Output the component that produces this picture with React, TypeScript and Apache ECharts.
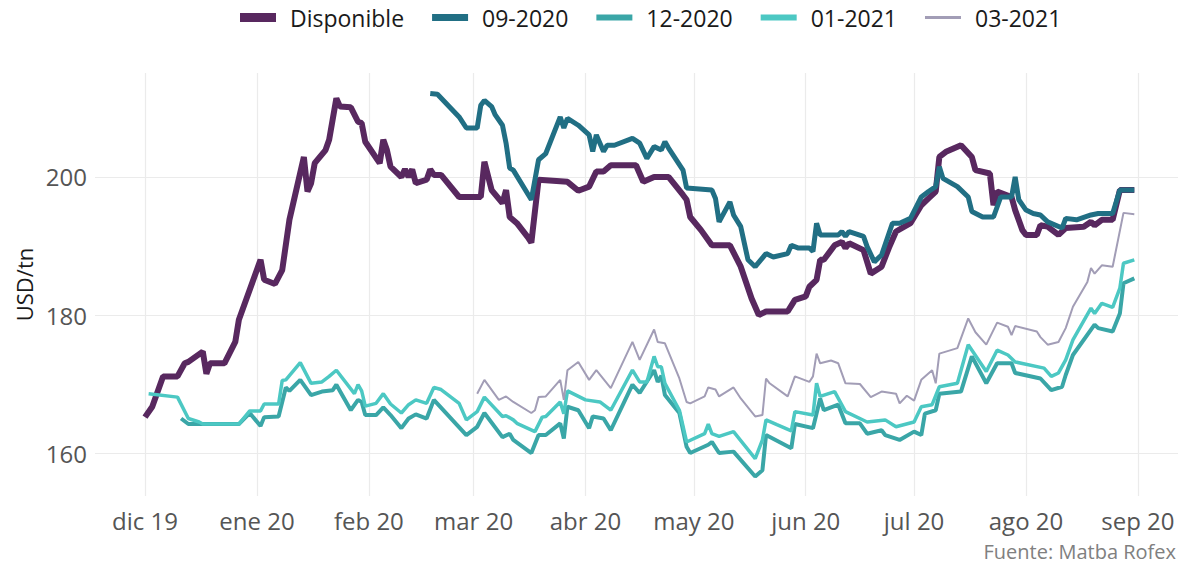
import React, { useEffect, useRef } from "react";
import * as echarts from "echarts";

const monthLabels = ["ene", "feb", "mar", "abr", "may", "jun", "jul", "ago", "sep", "oct", "nov", "dic"];
const seriesNames = ["Disponible", "09-2020", "12-2020", "01-2021", "03-2021"];
const seriesColors = ["#58285f", "#216f84", "#3aa6a7", "#4cc8c3", "#a29db6"];
const lineWidths = [6, 5, 4, 3.5, 2];
const legendIconHeights = [9, 7, 6, 6, 3];

// [days since 2019-12-01, USD/tn]
const disponible = [
  [0, 165.2], [2, 166.7], [5, 171.1], [9, 171.1], [11, 173], [12, 173.2], [16, 174.7], [17, 171.5], [18, 173], [22, 173],
  [25, 176.1], [26, 179.3], [28, 182.2], [32, 188], [33, 185.1], [36, 184.5], [38, 186.5], [40, 193.8], [44, 202.9], [45, 197.9],
  [46, 199.1], [47, 202], [50, 203.9], [51, 205.4], [53, 211.4], [54, 210.2], [57, 210.1], [59, 208], [60, 207.8], [61, 205.1],
  [65, 202], [66, 205.4], [67, 203.9], [68, 201.5], [71, 200], [72, 201.1], [73, 200], [74, 201.1], [75, 199.1], [78, 199.6],
  [79, 201.1], [80, 200.3], [82, 200.3], [87, 197.1], [93, 197.1], [94, 202.2], [96, 198.1], [99, 196.2], [100, 198.1], [101, 194.2],
  [103, 193.3], [106, 191.3], [107, 190.5], [109, 199.6], [117, 199.3], [120, 198], [123, 198.6], [125, 200.8], [127, 200.8], [129, 201.7],
  [136, 201.7], [138, 199.3], [141, 200], [145, 200], [149, 197.4], [150, 196.7], [151, 194.2], [154, 192.3], [157, 190.1], [162, 190.1],
  [165, 187], [168, 182.4], [170, 180], [172, 180.5], [178, 180.5], [180, 182.2], [183, 182.7], [184, 184.1], [186, 185.1], [187, 188],
  [188, 188], [191, 190.1], [193, 190.6], [194, 189.7], [195, 190.4], [199, 189.4], [201, 186], [204, 187], [206, 189.7], [208, 192.1],
  [212, 193.3], [215, 195.9], [217, 196.9], [219, 197.9], [220, 202.9], [222, 203.7], [226, 204.6], [229, 202.9], [230, 201], [234, 200.5],
  [235, 195.9], [236, 197.9], [240, 197.1], [241, 195.2], [243, 192.3], [244, 191.6], [247, 191.6], [248, 193], [250, 192.8], [253, 191.6],
  [255, 192.6], [260, 192.8], [262, 193.5], [263, 193], [265, 193.8], [268, 193.8], [270, 198.1], [274, 198.1],
];

const sep2020 = [
  [79, 212.1], [81, 212], [87, 208.7], [89, 207.1], [92, 207.1], [93, 210.4], [94, 211.1], [96, 210.2], [97, 209], [99, 207.5],
  [100, 204.9], [101, 201.3], [102, 201], [107, 196.7], [109, 202.5], [111, 203.4], [115, 208.7], [116, 207.1], [117, 208.5], [120, 207.5],
  [123, 206.1], [124, 203.7], [125, 206.1], [127, 203.7], [128, 204.6], [130, 204.6], [135, 205.6], [137, 204.9], [139, 202.7], [141, 204.4],
  [143, 203.9], [144, 205.1], [145, 204.2], [149, 201], [150, 198.4], [157, 198.1], [158, 196.9], [159, 193.5], [162, 196.4], [163, 194.5],
  [165, 192.8], [167, 188], [169, 187], [172, 188.9], [174, 188.4], [178, 188.9], [179, 190.1], [181, 189.7], [184, 189.7], [185, 189.2],
  [186, 193.3], [187, 191.6], [192, 191.6], [193, 192.1], [194, 191.4], [195, 192.1], [199, 191.4], [200, 189.9], [202, 187.7], [204, 188.7],
  [207, 193.3], [209, 193.3], [212, 194], [215, 197.1], [217, 197.9], [219, 198.6], [220, 201.5], [221, 199.8], [225, 198.6], [228, 197.1],
  [229, 195], [232, 194.2], [235, 194.2], [237, 197.1], [240, 197.1], [241, 200], [242, 196.7], [244, 195.2], [246, 194.7], [248, 194.5],
  [250, 193.5], [254, 192.6], [255, 194], [258, 193.8], [262, 194.5], [264, 194.7], [268, 194.7], [270, 198.1], [274, 198.1],
];

const dec2020 = [
  [10, 165], [12, 164.2], [26, 164.2], [29, 165.8], [32, 163.9], [33, 165.2], [37, 165.3], [39, 169.5], [40, 169], [43, 170.6],
  [46, 168.4], [49, 168.9], [52, 169.1], [53, 169.9], [57, 166.2], [59, 167.7], [60, 167.4], [61, 165.5], [64, 165.5], [66, 166.6],
  [68, 165.5], [71, 163.6], [73, 165], [75, 165.6], [78, 165], [80, 167.7], [89, 162.6], [92, 163.8], [94, 165.8], [99, 162.3],
  [101, 162.8], [102, 161.9], [107, 160], [109, 162.6], [111, 162.6], [115, 164.3], [116, 162.1], [117, 166.7], [120, 166.2], [123, 163.6],
  [124, 165.3], [127, 165], [129, 163.3], [135, 169.9], [137, 168.7], [141, 172], [142, 170.3], [143, 171.2], [144, 168.4], [148, 165.8],
  [150, 160.9], [151, 160], [156, 161.2], [157, 161.6], [159, 160], [163, 160.2], [169, 156.6], [171, 157.5], [172, 162.6], [179, 160.7],
  [180, 164.2], [185, 163.6], [187, 167.9], [188, 166.2], [192, 167], [194, 164.3], [198, 164.3], [200, 162.8], [204, 163.3], [205, 162.6],
  [209, 161.9], [213, 163.1], [215, 162.6], [216, 165.7], [219, 166.2], [220, 168.6], [226, 168.9], [229, 174], [233, 170.1], [236, 173],
  [240, 173], [241, 171.6], [248, 170.8], [251, 169.1], [254, 169.6], [255, 171.3], [257, 174.2], [263, 178.6], [264, 178.1], [268, 177.6],
  [270, 180.2], [271, 184.6], [274, 185.3],
];

const jan2021 = [
  [1, 168.6], [9, 168.1], [12, 165], [15, 164.5], [16, 164.2], [26, 164.2], [29, 166.1], [32, 166.1], [33, 167.1], [37, 167.1],
  [38, 170.5], [39, 170.6], [43, 173.1], [46, 170.1], [49, 170.3], [51, 171.1], [53, 172], [58, 168.6], [59, 169.9], [60, 169],
  [61, 166.8], [64, 167.2], [66, 168.6], [68, 167.1], [71, 165.8], [73, 167], [75, 167.7], [78, 167.2], [80, 169.5], [82, 169.2],
  [87, 167.2], [89, 164.8], [92, 166], [94, 168.1], [99, 165.3], [100, 165.4], [102, 164.8], [103, 164.3], [108, 163.1], [110, 165.2],
  [111, 165.3], [115, 167.4], [116, 165.7], [117, 169], [122, 167.7], [126, 167.4], [129, 166.2], [135, 172], [137, 170.3], [139, 170.3],
  [141, 174], [142, 172.5], [143, 172.5], [144, 170.1], [148, 166.2], [150, 161.6], [155, 162.8], [156, 164.2], [157, 162.8], [159, 162.4],
  [163, 163.1], [169, 159.2], [171, 161.9], [172, 164.8], [175, 164.1], [179, 163.2], [180, 166], [185, 165.5], [186, 170.1], [187, 168.2],
  [191, 168.9], [194, 166], [200, 164.5], [205, 164.8], [208, 163.8], [213, 164.5], [215, 166.7], [218, 167], [220, 169.6], [225, 170.1],
  [228, 175.7], [233, 171.8], [236, 174.9], [239, 174.2], [241, 173.2], [249, 172.3], [251, 171.1], [253, 171.6], [255, 173.5], [257, 176.4],
  [262, 181], [263, 180.2], [265, 181.7], [268, 181.1], [270, 183.9], [271, 187.5], [274, 188],
];

const mar2021 = [
  [92, 168.6], [94, 170.6], [98, 167.7], [100, 168.2], [102, 167.4], [107, 165.8], [108, 166.2], [109, 168.1], [111, 168.2], [115, 170.6],
  [116, 167.7], [117, 172], [120, 173.2], [123, 170.6], [125, 172], [129, 169.4], [135, 176.1], [137, 173.5], [141, 177.9], [142, 176.1],
  [144, 175.9], [148, 170.8], [150, 167.4], [151, 167.2], [155, 168.2], [156, 169.5], [158, 169.2], [159, 168.2], [163, 169.5], [165, 167.9],
  [169, 165.3], [171, 165.5], [172, 170.8], [173, 170.1], [178, 168.2], [180, 171.1], [184, 170.3], [185, 171.1], [186, 174.4], [187, 173],
  [190, 173.4], [192, 173], [194, 170.1], [198, 170], [201, 168.1], [204, 168.9], [208, 168.6], [209, 167.2], [211, 168.3], [213, 167.6],
  [215, 170.6], [218, 172], [219, 170.1], [220, 174.4], [225, 175.2], [228, 179.5], [230, 177.5], [233, 175.7], [236, 178.9], [239, 178.3],
  [240, 177.1], [241, 178.4], [247, 177.6], [248, 176.8], [250, 175.7], [253, 176.1], [255, 178.1], [257, 181.2], [261, 184.8], [262, 186.8],
  [263, 186], [265, 187.2], [268, 187], [271, 194.8], [274, 194.6],
];

const allSeries = [disponible, sep2020, dec2020, jan2021, mar2021];

const DAY = 86400000;
const BASE = Date.UTC(2019, 11, 1);
const FONT = "'Open Sans', sans-serif";

export default function App() {
  const ref = useRef<HTMLDivElement>(null);

  useEffect(() => {
    if (!ref.current) return;
    const chart = echarts.init(ref.current, null, { renderer: "svg" });
    const toData = (arr: number[][]) => arr.map(([d, v]) => [BASE + d * DAY, v]);

    chart.setOption({
      animation: false,
      useUTC: true,
      backgroundColor: "#ffffff",
      textStyle: { fontFamily: FONT },
      grid: { left: 95, right: 0, top: 73, bottom: 68, containLabel: false },
      legend: {
        left: 235,
        top: 1,
        itemWidth: 36,
        itemHeight: 10,
        itemGap: 28,
        textStyle: { fontSize: 23, color: "#1a1a1a", fontFamily: FONT, padding: [0, 0, 0, 9] },
        data: seriesNames.map((n, i) => ({
          name: n,
          icon: `path://M0,0H36V${legendIconHeights[i]}H0Z`,
        })),
      },
      xAxis: {
        type: "time",
        min: BASE - 13.85 * DAY,
        max: BASE + 286.1 * DAY,
        splitNumber: 10,
        minInterval: 27 * DAY,
        axisLine: { show: false },
        axisTick: { show: false },
        axisLabel: {
          fontSize: 24,
          color: "#555555",
          fontFamily: FONT,
          margin: 12,
          showMinLabel: false,
          showMaxLabel: false,
          formatter: (val: number) => {
            const d = new Date(val);
            return `${monthLabels[d.getUTCMonth()]} ${String(d.getUTCFullYear()).slice(2)}`;
          },
        },
        splitLine: { show: true, showMinLine: false, showMaxLine: false, lineStyle: { color: "#ebebeb", width: 1.2 } },
      },
      yAxis: {
        type: "value",
        min: 153.77,
        max: 215.07,
        minInterval: 20,
        maxInterval: 20,
        name: "USD/tn",
        nameLocation: "middle",
        nameGap: 60,
        nameTextStyle: { fontSize: 22, color: "#1a1a1a", fontFamily: FONT },
        axisLine: { show: false },
        axisTick: { show: false },
        axisLabel: {
          fontSize: 24,
          color: "#555555",
          fontFamily: FONT,
          margin: 8,
          showMinLabel: false,
          showMaxLabel: false,
        },
        splitLine: { show: true, showMinLine: false, showMaxLine: false, lineStyle: { color: "#ebebeb", width: 1.2 } },
      },
      series: allSeries.map((arr, i) => ({
        name: seriesNames[i],
        type: "line",
        symbol: "none",
        data: toData(arr),
        color: seriesColors[i],
        lineStyle: { width: lineWidths[i], color: seriesColors[i] },
        itemStyle: { color: seriesColors[i] },
        z: 2 + i,
      })),
      graphic: [
        {
          type: "text",
          right: 2,
          top: 541,
          style: { text: "Fuente: Matba Rofex", fontSize: 20, fill: "#808080", fontFamily: FONT },
        },
      ],
    });

    return () => chart.dispose();
  }, []);

  return (
    <div
      ref={ref}
      style={{ position: "absolute", left: 0, top: 0, width: 1178, height: 564 }}
    />
  );
}
